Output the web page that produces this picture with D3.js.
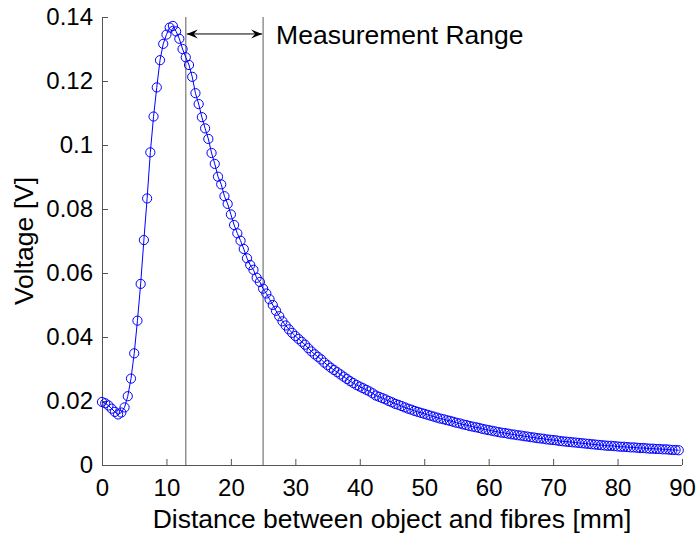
<!DOCTYPE html>
<html>
<head>
<meta charset="utf-8">
<script src="https://cdn.jsdelivr.net/npm/d3@7"></script>
<style>
  body { margin: 0; background: #fff; }
  text { font-family: "Liberation Sans", Arial, Helvetica, sans-serif; fill: #000; }
</style>
</head>
<body>
<div id="chart"></div>
<script>
// Data (distance in mm, voltage in V)
const distances = [
  0, 0.5, 1, 1.5, 2, 2.5, 3, 3.5, 4, 4.5, 5, 5.5, 6, 6.5, 7, 7.5, 8, 8.5, 9, 9.5,
  10, 10.5, 11, 11.5, 12, 12.5, 13, 13.5, 14, 14.5, 15, 15.5, 16, 16.5, 17, 17.5, 18, 18.5, 19, 19.5,
  20, 20.5, 21, 21.5, 22, 22.5, 23, 23.5, 24, 24.5, 25, 25.5, 26, 26.5, 27, 27.5, 28, 28.5, 29, 29.5,
  30, 30.5, 31, 31.5, 32, 32.5, 33, 33.5, 34, 34.5, 35, 35.5, 36, 36.5, 37, 37.5, 38, 38.5, 39, 39.5,
  40, 40.5, 41, 41.5, 42, 42.5, 43, 43.5, 44, 44.5, 45, 45.5, 46, 46.5, 47, 47.5, 48, 48.5, 49, 49.5,
  50, 50.5, 51, 51.5, 52, 52.5, 53, 53.5, 54, 54.5, 55, 55.5, 56, 56.5, 57, 57.5, 58, 58.5, 59, 59.5,
  60, 60.5, 61, 61.5, 62, 62.5, 63, 63.5, 64, 64.5, 65, 65.5, 66, 66.5, 67, 67.5, 68, 68.5, 69, 69.5,
  70, 70.5, 71, 71.5, 72, 72.5, 73, 73.5, 74, 74.5, 75, 75.5, 76, 76.5, 77, 77.5, 78, 78.5, 79, 79.5,
  80, 80.5, 81, 81.5, 82, 82.5, 83, 83.5, 84, 84.5, 85, 85.5, 86, 86.5, 87, 87.5, 88, 88.5, 89, 89.5
];
const voltages = [
  0.0197, 0.0193, 0.0186, 0.0176, 0.0166, 0.0158, 0.0164, 0.0180, 0.0215, 0.0270,
  0.0349, 0.0451, 0.0566, 0.0703, 0.0833, 0.0977, 0.1089, 0.1180, 0.1265, 0.1316,
  0.1345, 0.1367, 0.1372, 0.1355, 0.1332, 0.1300, 0.1274, 0.1250, 0.1213, 0.1162,
  0.1128, 0.1087, 0.1052, 0.1019, 0.0975, 0.0941, 0.0901, 0.0877, 0.0840, 0.0816,
  0.0783, 0.0750, 0.0724, 0.0701, 0.0675, 0.0646, 0.0625, 0.0610, 0.0585, 0.0572,
  0.0551, 0.0536, 0.0518, 0.0500, 0.0482, 0.0465, 0.0449, 0.0436, 0.0424, 0.0413,
  0.0403, 0.0394, 0.0385, 0.0376, 0.0365, 0.0355, 0.0346, 0.0338, 0.0330, 0.0320,
  0.0312, 0.0304, 0.0297, 0.0290, 0.0283, 0.0276, 0.0269, 0.0262, 0.0256, 0.0250,
  0.0245, 0.0240, 0.0235, 0.0230, 0.0224, 0.0217, 0.0213, 0.0209, 0.0205, 0.0200,
  0.0196, 0.0191, 0.0188, 0.0184, 0.0180, 0.0176, 0.0173, 0.0169, 0.0166, 0.0163,
  0.0160, 0.0157, 0.0154, 0.0151, 0.0148, 0.0145, 0.0143, 0.0140, 0.0138, 0.0135,
  0.0132, 0.0130, 0.0127, 0.0125, 0.0122, 0.0120, 0.0118, 0.0116, 0.0113, 0.0111,
  0.0109, 0.0107, 0.0105, 0.0103, 0.0101, 0.0100, 0.0098, 0.0096, 0.0095, 0.0093,
  0.0092, 0.0090, 0.0089, 0.0087, 0.0086, 0.0084, 0.0083, 0.0082, 0.0080, 0.0079,
  0.0078, 0.0077, 0.0075, 0.0074, 0.0073, 0.0072, 0.0071, 0.0070, 0.0069, 0.0068,
  0.0067, 0.0066, 0.0065, 0.0064, 0.0063, 0.0062, 0.0061, 0.0060, 0.0060, 0.0059,
  0.0058, 0.0057, 0.0057, 0.0056, 0.0055, 0.0055, 0.0054, 0.0053, 0.0053, 0.0052,
  0.0051, 0.0051, 0.0050, 0.0050, 0.0049, 0.0049, 0.0048, 0.0047, 0.0047, 0.0046
];
const xTicks = [0, 10, 20, 30, 40, 50, 60, 70, 80, 90];
const yTicks = [0, 0.02, 0.04, 0.06, 0.08, 0.1, 0.12, 0.14];
const rangeBounds = [13, 25];
const rangeLabel = "Measurement Range";
const rangeArrowY = 0.1347;

const width = 698, height = 534;
const margin = { top: 17, right: 16, bottom: 69, left: 102 };

const svg = d3.select("#chart").append("svg")
  .attr("width", width)
  .attr("height", height);

const x = d3.scaleLinear().domain([0, 90]).range([margin.left, width - margin.right]);
const y = d3.scaleLinear().domain([0, 0.14]).range([height - margin.bottom, margin.top]);

const points = distances.map((d, i) => ({ d: d, v: voltages[i] }));

// axes (left and bottom only, ticks pointing inward)
const xAxis = svg.append("g")
  .attr("transform", `translate(0,${y(0)})`)
  .call(d3.axisBottom(x).tickValues(xTicks).tickSize(-6).tickPadding(14).tickFormat(d3.format("d")));
const yAxis = svg.append("g")
  .attr("transform", `translate(${x(0)},0)`)
  .call(d3.axisLeft(y).tickValues(yTicks).tickSize(-6).tickPadding(9).tickFormat(d => d === 0 ? "0" : String(+d.toFixed(2))));

[xAxis, yAxis].forEach(g => {
  g.select(".domain").attr("stroke", "#555").attr("stroke-width", 1);
  g.selectAll(".tick line").attr("stroke", "#555");
  g.selectAll(".tick text")
    .style("font-family", '"Liberation Sans", Arial, sans-serif')
    .style("font-size", "24px")
    .attr("fill", "#000");
});
// MATLAB-like axis: drop the outer end caps of the domain path
xAxis.select(".domain").attr("d", `M${x(0)},0.5H${x(90)}`);
yAxis.select(".domain").attr("d", `M0.5,${y(0)}V${y(0.14)}`);

// measurement range markers
svg.selectAll(".bound")
  .data(rangeBounds)
  .join("line")
  .attr("class", "bound")
  .attr("x1", d => x(d)).attr("x2", d => x(d))
  .attr("y1", y(0)).attr("y2", y(0.14))
  .attr("stroke", "#808080")
  .attr("stroke-width", 1.3);

// double arrow between the two bounds
const ay = y(rangeArrowY);
const ax1 = x(rangeBounds[0]) + 1, ax2 = x(rangeBounds[1]) - 1;
svg.append("line")
  .attr("x1", ax1).attr("x2", ax2)
  .attr("y1", ay).attr("y2", ay)
  .attr("stroke", "#000").attr("stroke-width", 1);
const head = (tip, dir) => {
  const l = 11, w = 4.5, b = 7;
  return `M${tip},${ay}L${tip + dir * l},${ay - w}L${tip + dir * b},${ay}L${tip + dir * l},${ay + w}Z`;
};
svg.append("path").attr("d", head(ax1, 1)).attr("fill", "#000");
svg.append("path").attr("d", head(ax2, -1)).attr("fill", "#000");

svg.append("text")
  .attr("x", x(rangeBounds[1]) + 13)
  .attr("y", 44)
  .style("font-size", "26.5px")
  .text(rangeLabel);

// data line and markers
svg.append("path")
  .datum(points)
  .attr("fill", "none")
  .attr("stroke", "#0000ff")
  .attr("stroke-width", 1)
  .attr("d", d3.line().x(p => x(p.d)).y(p => y(p.v)));

svg.append("g")
  .selectAll("circle")
  .data(points)
  .join("circle")
  .attr("cx", p => x(p.d))
  .attr("cy", p => y(p.v))
  .attr("r", 4.6)
  .attr("fill", "none")
  .attr("stroke", "#0000ff")
  .attr("stroke-width", 1);

// axis labels
svg.append("text")
  .attr("x", (x(0) + x(90)) / 2)
  .attr("y", 528)
  .attr("text-anchor", "middle")
  .style("font-size", "26.5px")
  .text("Distance between object and fibres [mm]");

svg.append("text")
  .attr("transform", `translate(33,${(y(0) + y(0.14)) / 2}) rotate(-90)`)
  .attr("text-anchor", "middle")
  .style("font-size", "26.5px")
  .text("Voltage [V]");
</script>
</body>
</html>
